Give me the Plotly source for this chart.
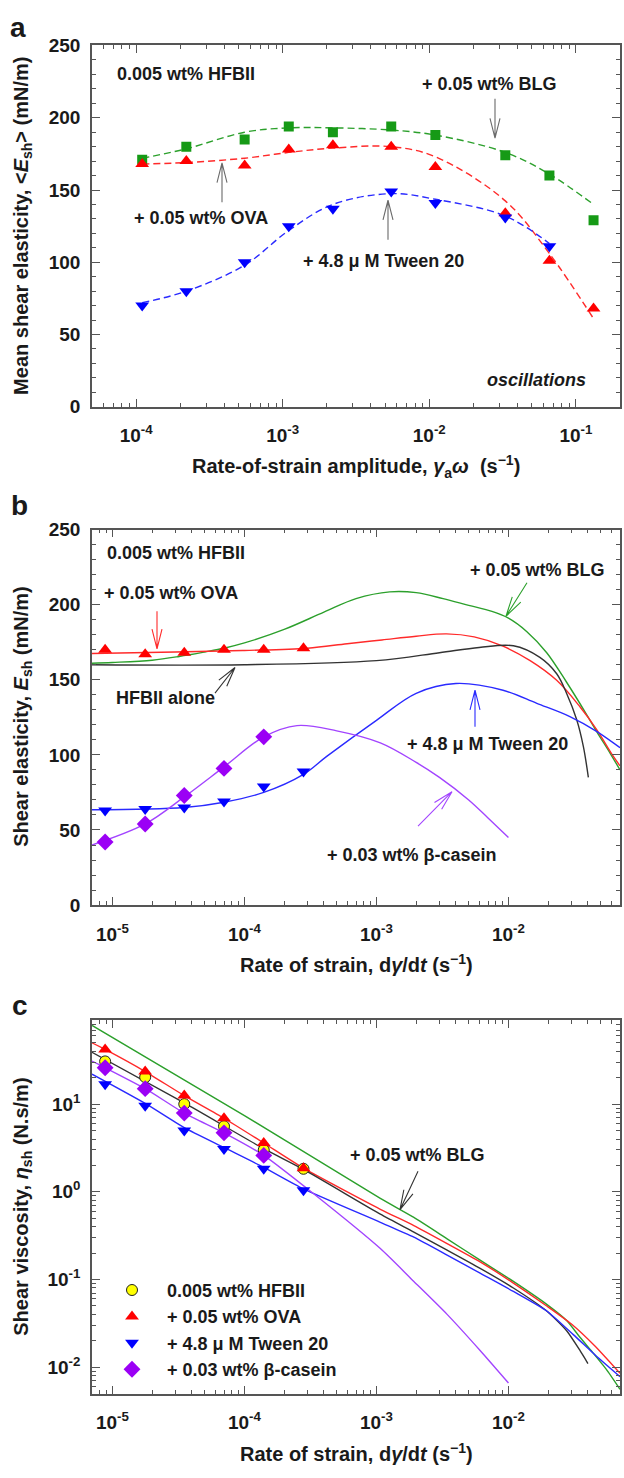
import math
import plotly.graph_objects as go

W, H = 624, 1478
FONT = "Liberation Sans, Arial, sans-serif"
TXT = "#1a1a1a"
AX = "#555555"

GREEN_M, GREEN_L = "#169a16", "#2ca02c"
RED_M, RED_L = "#ff0000", "#ff2a2a"
BLUE_M, BLUE_L = "#0000ff", "#2a2aff"
PURP_M, PURP_L = "#9b00f5", "#a244ff"
BLACK_L = "#333333"

# ---------------- panel a data (oscillations) ----------------
a_x = [1.1e-4, 2.2e-4, 5.5e-4, 1.1e-3, 2.2e-3, 5.5e-3, 1.1e-2, 3.3e-2, 6.6e-2, 1.32e-1]
a_blg = [171, 180, 185, 194, 190, 194, 188, 174, 160, 129]
a_ova = [168, 170, 167, 178, 181, 180, 166, 134, 101, 68]
a_tw_x = [1.1e-4, 2.2e-4, 5.5e-4, 1.1e-3, 2.2e-3, 5.5e-3, 1.1e-2, 3.3e-2, 6.6e-2]
a_tween = [70, 80, 100, 125, 137, 149, 141, 131, 111]

a_fit_blg = [172, 178.5, 190, 193, 193, 191.5, 188, 176, 161, 140]
a_fit_ova = [168, 169, 172, 176, 179, 180, 173, 142.5, 106, 61]
a_fit_tween = [72, 80, 98, 122, 140, 147.5, 143.6, 132, 113]

# ---------------- panel b data (elasticity) ----------------
b_pt_x = [8.8e-6, 1.77e-5, 3.5e-5, 7e-5, 1.4e-4, 2.8e-4]
b_ova = [170, 167, 168, 170, 170, 171]
b_tween = [63, 64, 65, 69, 79, 89]
b_cas_x = [8.8e-6, 1.77e-5, 3.5e-5, 7e-5, 1.4e-4]
b_cas = [42, 54, 73, 91, 112]

b_blg_cx = [7e-6, 1e-5, 2e-5, 3.2e-5, 5e-5, 7e-5, 1e-4, 2e-4, 4e-4, 7e-4, 1.26e-3,
            2e-3, 3.2e-3, 5e-3, 7.5e-3, 1e-2, 1.38e-2, 1.95e-2, 2.75e-2, 3.9e-2,
            4.7e-2, 5.9e-2, 7e-2]
b_blg_cy = [161, 161.5, 163, 165.5, 168.5, 171, 174.5, 183.5, 195, 204, 208.5,
            208, 204, 199.5, 195.5, 191, 182, 168, 148.5, 127, 115, 101, 90]
b_ova_cx = [7e-6, 3e-5, 1e-4, 3e-4, 6e-4, 1.1e-3, 2e-3, 3.4e-3, 5.5e-3, 9e-3,
            1.46e-2, 2.32e-2, 3.48e-2, 4.66e-2, 6.2e-2, 7e-2]
b_ova_cy = [167.5, 168.5, 169.5, 171, 174, 176.5, 179, 180.5, 178.5, 172.5,
            162.7, 149.6, 132, 116.8, 99.3, 92.7]
b_hfb_cx = [7e-6, 1e-4, 1e-3, 3e-3, 6e-3, 1.09e-2, 1.73e-2, 2.32e-2, 2.76e-2,
            3.29e-2, 3.69e-2, 4.03e-2]
b_hfb_cy = [160, 160, 162.7, 168, 171.5, 172.6, 164.9, 154, 140.9, 123.4, 105.8, 85]
b_tw_cx = [7e-6, 3.5e-5, 7e-5, 1.4e-4, 2.8e-4, 4.2e-4, 1e-3, 2e-3, 4e-3, 9.1e-3,
           1.64e-2, 2.92e-2, 4.65e-2, 7e-2]
b_tw_cy = [63.5, 65, 68.5, 75, 87, 99, 123, 141, 147.5, 143, 134.3, 125.5, 115.7, 104.8]
b_cas_cx = [7e-6, 1.77e-5, 3.5e-5, 7e-5, 1.4e-4, 2.5e-4, 5e-4, 1.07e-3, 2e-3,
            3e-3, 5e-3, 7e-3, 1e-2]
b_cas_cy = [40, 54, 72, 92, 112, 119.5, 116, 108, 95, 85, 70, 58, 45]

# ---------------- panel c data (viscosity) ----------------
c_x = [8.8e-6, 1.77e-5, 3.5e-5, 7e-5, 1.4e-4, 2.8e-4]
c_hfb = [30.7, 20.3, 10, 5.6, 3.0, 1.83]
c_ova = [42, 23.5, 12.5, 6.9, 3.6, 1.86]
c_tween = [16.8, 9.6, 5.0, 3.07, 1.83, 1.04]
c_cas_x = [8.8e-6, 1.77e-5, 3.5e-5, 7e-5, 1.4e-4]
c_cas = [26, 15, 7.9, 4.7, 2.6]

c_blg_cx = [7e-6, 1e-4, 1.07e-3, 1.92e-3, 3.43e-3, 6.1e-3, 1.09e-2, 1.95e-2,
            2.76e-2, 3.48e-2, 4.3e-2, 5.5e-2, 7e-2]
c_blg_cy = [79, 7.4, 0.84, 0.51, 0.291, 0.166, 0.095, 0.052, 0.034, 0.0219,
            0.0150, 0.0095, 0.0056]
c_ova_cx = [7e-6, 8.8e-6, 1.77e-5, 3.5e-5, 7e-5, 1.4e-4, 2.8e-4, 1.07e-3, 1.92e-3,
            3.43e-3, 6.1e-3, 1.09e-2, 1.95e-2, 3.0e-2, 4.5e-2, 7e-2]
c_ova_cy = [50, 42, 23.5, 12.5, 6.9, 3.6, 1.86, 0.632, 0.412, 0.257, 0.159,
            0.091, 0.0498, 0.031, 0.0175, 0.0085]
c_hfb_cx = [7e-6, 3.5e-5, 1.4e-4, 2.8e-4, 1.07e-3, 1.92e-3, 3.43e-3, 6.1e-3,
            1.09e-2, 1.95e-2, 2.76e-2, 3.48e-2, 4.0e-2]
c_hfb_cy = [39, 10.3, 3.1, 1.8, 0.556, 0.347, 0.216, 0.134, 0.08, 0.0437,
            0.026, 0.0155, 0.011]
c_tw_cx = [7e-6, 1.77e-5, 3.5e-5, 7e-5, 1.4e-4, 2.8e-4, 1.07e-3, 1.92e-3,
           3.43e-3, 6.1e-3, 1.09e-2, 1.95e-2, 3.1e-2, 4.6e-2, 7e-2]
c_tw_cy = [22, 10.2, 5.4, 3.2, 1.9, 1.08, 0.449, 0.304, 0.19, 0.118, 0.073,
           0.0437, 0.0235, 0.0135, 0.0078]
c_cas_cx = [7e-6, 8.8e-6, 1.77e-5, 3.5e-5, 7e-5, 1.4e-4, 3.4e-4, 1.07e-3,
            1.92e-3, 3.43e-3, 6.1e-3, 1e-2]
c_cas_cy = [31, 26, 15, 7.9, 4.7, 2.6, 0.93, 0.225, 0.095, 0.040, 0.0155, 0.0066]

legend_names = ["0.005 wt% HFBII", "+ 0.05 wt% OVA", "+ 4.8 \u03bc M Tween 20",
                "+ 0.03 wt% \u03b2-casein"]

# ---------------- helpers ----------------
def px(x):
    return x / W


def py(y):
    return 1 - y / H


def sup_label(e):
    return "<b>10<sup>%d</sup></b>" % e


fig = go.Figure()
DASH = "7px,4px"

# ---- panel a ----
fig.add_trace(go.Scatter(x=a_x, y=a_fit_blg, mode="lines", line=dict(color=GREEN_L, width=1.4, dash=DASH, shape="spline"), xaxis="x", yaxis="y", showlegend=False))
fig.add_trace(go.Scatter(x=a_x, y=a_fit_ova, mode="lines", line=dict(color=RED_L, width=1.4, dash=DASH, shape="spline"), xaxis="x", yaxis="y", showlegend=False))
fig.add_trace(go.Scatter(x=a_tw_x, y=a_fit_tween, mode="lines", line=dict(color=BLUE_L, width=1.4, dash=DASH, shape="spline"), xaxis="x", yaxis="y", showlegend=False))
fig.add_trace(go.Scatter(x=a_x, y=a_blg, mode="markers", marker=dict(symbol="square", size=10, color=GREEN_M), xaxis="x", yaxis="y", showlegend=False))
fig.add_trace(go.Scatter(x=a_x, y=a_ova, mode="markers", marker=dict(symbol="triangle-up", size=12, color=RED_M), xaxis="x", yaxis="y", showlegend=False))
fig.add_trace(go.Scatter(x=a_tw_x, y=a_tween, mode="markers", marker=dict(symbol="triangle-down", size=12, color=BLUE_M), xaxis="x", yaxis="y", showlegend=False))

# ---- panel b ----
for cx, cy, col in [(b_blg_cx, b_blg_cy, GREEN_L), (b_ova_cx, b_ova_cy, RED_L),
                    (b_hfb_cx, b_hfb_cy, BLACK_L), (b_tw_cx, b_tw_cy, BLUE_L),
                    (b_cas_cx, b_cas_cy, PURP_L)]:
    fig.add_trace(go.Scatter(x=cx, y=cy, mode="lines", line=dict(color=col, width=1.4, shape="spline", smoothing=1.0), xaxis="x2", yaxis="y2", showlegend=False))
fig.add_trace(go.Scatter(x=b_pt_x, y=b_ova, mode="markers", marker=dict(symbol="triangle-up", size=12, color=RED_M), xaxis="x2", yaxis="y2", showlegend=False))
fig.add_trace(go.Scatter(x=b_pt_x, y=b_tween, mode="markers", marker=dict(symbol="triangle-down", size=12, color=BLUE_M), xaxis="x2", yaxis="y2", showlegend=False))
fig.add_trace(go.Scatter(x=b_cas_x, y=b_cas, mode="markers", marker=dict(symbol="diamond", size=13, color=PURP_M), xaxis="x2", yaxis="y2", showlegend=False))

# ---- panel c ----
for cx, cy, col in [(c_blg_cx, c_blg_cy, GREEN_L), (c_ova_cx, c_ova_cy, RED_L),
                    (c_hfb_cx, c_hfb_cy, BLACK_L), (c_tw_cx, c_tw_cy, BLUE_L),
                    (c_cas_cx, c_cas_cy, PURP_L)]:
    fig.add_trace(go.Scatter(x=cx, y=cy, mode="lines", line=dict(color=col, width=1.4, shape="spline", smoothing=0.6), xaxis="x3", yaxis="y3", showlegend=False))
fig.add_trace(go.Scatter(x=c_x, y=c_hfb, mode="markers", name="<b>" + legend_names[0] + "</b>", legendgroup="g1",
                         marker=dict(symbol="circle", size=11, color="#ffff00", line=dict(color="#222", width=1)), xaxis="x3", yaxis="y3"))
fig.add_trace(go.Scatter(x=c_x, y=c_ova, mode="markers", name="<b>" + legend_names[1] + "</b>", legendgroup="g2",
                         marker=dict(symbol="triangle-up", size=12, color=RED_M), xaxis="x3", yaxis="y3"))
fig.add_trace(go.Scatter(x=c_x, y=c_tween, mode="markers", name="<b>" + legend_names[2] + "</b>", legendgroup="g3",
                         marker=dict(symbol="triangle-down", size=12, color=BLUE_M), xaxis="x3", yaxis="y3"))
fig.add_trace(go.Scatter(x=c_cas_x, y=c_cas, mode="markers", name="<b>" + legend_names[3] + "</b>", legendgroup="g4",
                         marker=dict(symbol="diamond", size=13, color=PURP_M), xaxis="x3", yaxis="y3"))

# ---------------- axes ----------------
xdom = [px(92), px(620)]
dom_a = [py(402.5), py(36)]
dom_b = [py(908), py(527)]
dom_c = [py(1403.5), py(1025)]

tickfont = dict(family=FONT, size=19, color=TXT, weight="bold")
common = dict(showline=True, linecolor=AX, linewidth=1.5, mirror="allticks",
              ticks="inside", ticklen=8, tickwidth=1.3, tickcolor=AX,
              showgrid=False, zeroline=False, tickfont=tickfont)


def log_minor(lo, hi):
    return [m * 10.0 ** e for e in range(lo, hi) for m in range(2, 10)]


def xlog(rng_lo, rng_hi, exps, anchor):
    return dict(common, type="log", range=[math.log10(rng_lo), math.log10(rng_hi)],
                domain=xdom, anchor=anchor, tickmode="array",
                tickvals=[10.0 ** e for e in exps], ticktext=[sup_label(e) for e in exps],
                ticklabelstandoff=11,
                minor=dict(ticks="inside", ticklen=4, tickwidth=1, tickcolor=AX,
                           tickmode="array", tickvals=log_minor(-7, 1), showgrid=False))


fig.update_layout(
    xaxis=xlog(5e-5, 0.2, [-4, -3, -2, -1], "y"),
    yaxis=dict(common, range=[0, 250], domain=dom_a, anchor="x", dtick=50, tick0=0,
               ticklabelstandoff=6,
               minor=dict(ticks="inside", ticklen=4, tickwidth=1, tickcolor=AX, dtick=10, showgrid=False)),
    xaxis2=xlog(7e-6, 0.07, [-5, -4, -3, -2], "y2"),
    yaxis2=dict(common, range=[0, 250], domain=dom_b, anchor="x2", dtick=50, tick0=0,
                ticklabelstandoff=6,
                minor=dict(ticks="inside", ticklen=4, tickwidth=1, tickcolor=AX, dtick=10, showgrid=False)),
    xaxis3=xlog(7e-6, 0.07, [-5, -4, -3, -2], "y3"),
    yaxis3=dict(common, type="log", range=[math.log10(0.005), math.log10(90)], domain=dom_c,
                anchor="x3", tickmode="array", tickvals=[0.01, 0.1, 1, 10],
                ticktext=[sup_label(e) for e in [-2, -1, 0, 1]], ticklabelstandoff=6,
                minor=dict(ticks="inside", ticklen=4, tickwidth=1, tickcolor=AX,
                           tickmode="array", tickvals=log_minor(-4, 3), showgrid=False)),
)

# ---------------- annotations ----------------
ann = []


def text(x, y, s, size=18, xanchor="center", angle=0, italic=False, color=TXT, bold=True):
    t = s
    if bold:
        t = "<b>" + t + "</b>"
    if italic:
        t = "<i>" + t + "</i>"
    ann.append(dict(x=px(x), y=py(y), xref="paper", yref="paper", text=t, showarrow=False,
                    xanchor=xanchor, yanchor="middle", textangle=angle,
                    font=dict(family=FONT, size=size, color=color)))


# panel letters
text(18, 18, "a", size=28)
text(19, 503, "b", size=28)
text(20, 1010, "c", size=28)

# axis titles
text(356, 463, "Rate-of-strain amplitude, <i>γ</i><sub>a</sub><i>ω</i>  (s<sup>−1</sup>)", size=20)
text(356, 967, "Rate of strain, d<i>γ</i>/d<i>t</i> (s<sup>−1</sup>)", size=20)
text(356, 1463, "Rate of strain, d<i>γ</i>/d<i>t</i> (s<sup>−1</sup>)", size=20)
text(23, 219, "Mean shear elasticity, &lt;<i>E</i><sub>sh</sub>&gt; (mN/m)", size=20, angle=-90)
text(23, 717, "Shear elasticity, <i>E</i><sub>sh</sub> (mN/m)", size=20, angle=-90)
text(23, 1214, "Shear viscosity, <i>η</i><sub>sh</sub> (N.s/m)", size=20, angle=-90)

# panel a labels
text(115, 65, "0.005 wt% HFBII", xanchor="left")
text(489, 75, "+ 0.05 wt% BLG")
text(201, 211, "+ 0.05 wt% OVA")
text(383, 255, "+ 4.8 μ M Tween 20")
text(588, 375, "oscillations", xanchor="right", italic=True)

# panel b labels
text(105, 551, "0.005 wt% HFBII", xanchor="left")
text(537, 568, "+ 0.05 wt% BLG")
text(171, 591, "+ 0.05 wt% OVA")
text(165, 698, "HFBII alone")
text(487, 745, "+ 4.8 μ M Tween 20")
text(412, 857, "+ 0.03 wt% β-casein")

# panel c labels
text(417, 1162, "+ 0.05 wt% BLG")

shapes = []


def arrow(tail, tip, color, head=20, half=5.0):
    x0, y0 = tail
    x1, y1 = tip
    dx, dy = x1 - x0, y1 - y0
    L = math.hypot(dx, dy)
    ux, uy = dx / L, dy / L
    bx, by = x1 - ux * head, y1 - uy * head
    nx, ny = -uy, ux
    p1 = (bx + nx * half, by + ny * half)
    p2 = (bx - nx * half, by - ny * half)
    path = "M %f %f L %f %f M %f %f L %f %f L %f %f" % (
        px(x0), py(y0), px(x1), py(y1), px(p1[0]), py(p1[1]), px(x1), py(y1), px(p2[0]), py(p2[1]))
    shapes.append(dict(type="path", path=path, xref="paper", yref="paper",
                       line=dict(color=color, width=1.1)))


GREY = "#6a6a6a"
arrow((495, 90), (495, 130), GREY)
arrow((222, 195), (222, 155), GREY)
arrow((388, 233), (388, 193), GREY)

arrow((527, 581), (506, 615), GREEN_L)
arrow((157, 610), (157, 648), RED_L)
arrow((215, 693), (235, 667), BLACK_L)
arrow((475, 727), (475, 690), BLUE_L)
arrow((418, 828), (452, 793), PURP_L)

arrow((418, 1178), (400, 1217), BLACK_L)

fig.update_layout(
    width=W, height=H,
    margin=dict(l=0, r=0, t=0, b=0),
    paper_bgcolor="white", plot_bgcolor="white",
    annotations=ann, shapes=shapes,
    showlegend=True,
    legend=dict(x=px(97), y=py(1280), xanchor="left", yanchor="top",
                bgcolor="rgba(0,0,0,0)", borderwidth=0, itemwidth=60,
                tracegroupgap=0,
                font=dict(family=FONT, size=18, color=TXT)),
    font=dict(family=FONT, color=TXT),
)

fig.write_html("out.html", config={"displayModeBar": False},
               post_script="document.body.style.margin='0px';document.body.style.overflow='hidden';")
